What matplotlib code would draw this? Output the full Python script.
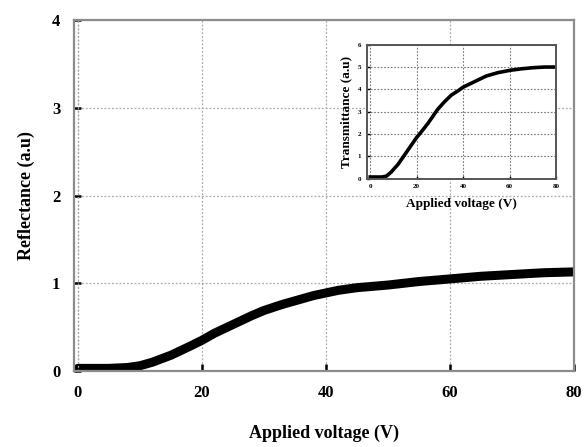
import matplotlib
matplotlib.use("Agg")
import matplotlib.pyplot as plt

# main curve: reflectance vs applied voltage
volt = [0, 3, 5, 8, 10, 12, 15, 18, 20, 22, 25, 28, 30, 33, 35, 38, 40,
        42, 45, 50, 55, 60, 65, 70, 75, 80]
refl = [0.03, 0.03, 0.03, 0.04, 0.06, 0.10, 0.18, 0.28, 0.35, 0.43, 0.53,
        0.63, 0.69, 0.76, 0.80, 0.86, 0.89, 0.92, 0.95, 0.98, 1.02, 1.05,
        1.08, 1.10, 1.12, 1.13]

# inset curve: transmittance vs applied voltage
volt_in = [0, 3, 5, 7, 9, 12, 14, 16, 18, 20, 22, 25, 27, 29, 32, 35, 38,
           40, 43, 45, 50, 55, 60, 65, 70, 75, 80]
trans = [0.08, 0.08, 0.08, 0.12, 0.3, 0.65, 0.95, 1.25, 1.55, 1.85, 2.1,
         2.5, 2.8, 3.1, 3.45, 3.75, 3.95, 4.1, 4.25, 4.35, 4.6, 4.75, 4.85,
         4.92, 4.97, 5.0, 5.0]

xticks = [0, 20, 40, 60, 80]
yticks = [0, 1, 2, 3, 4]
yticks_in = [0, 1, 2, 3, 4, 5, 6]

plt.rcParams["font.family"] = ["Liberation Serif", "DejaVu Serif"]
plt.rcParams["font.weight"] = "bold"

fig = plt.figure(figsize=(5.84, 4.47), dpi=100)
ax = fig.add_axes([0.127, 0.170, 0.856, 0.785])

ax.plot(volt, refl, color="black", lw=6.5, solid_capstyle="round")
ax.set_xlim(-0.6, 80)
ax.set_ylim(0, 4)
ax.set_xticks(xticks)
ax.set_yticks(yticks)
ax.grid(True, color="#aaaaaa", linestyle=(0, (1.5, 1.5)), lw=0.9)
ax.axvline(0, color="#aaaaaa", linestyle=(0, (1.5, 1.5)), lw=0.9)
for s in ax.spines.values():
    s.set_color("#8c8c8c")
    s.set_linewidth(1.6)
ax.tick_params(direction="in", length=5, width=1.8, color="black",
               labelsize=12, pad=10)
for t in ax.get_xticklabels() + ax.get_yticklabels():
    t.set_fontweight("bold")
ax.set_xlabel("Applied voltage (V)", fontsize=13, fontweight="bold", labelpad=17)
ax.set_ylabel("Reflectance (a.u)", fontsize=13, fontweight="bold", labelpad=12)

# inset
axi = fig.add_axes([0.628, 0.600, 0.324, 0.300])
axi.plot(volt_in, trans, color="black", lw=2.6)
axi.set_xlim(-1.5, 80)
axi.set_ylim(0, 6)
axi.set_xticks(xticks)
axi.set_yticks(yticks_in)
axi.grid(True, color="#777777", linestyle=(0, (1.5, 1.5)), lw=0.8)
for s in axi.spines.values():
    s.set_color("#555555")
    s.set_linewidth(1.4)
axi.tick_params(direction="in", length=2, width=1, labelsize=5, pad=4)
axi.set_xlabel("Applied voltage (V)", fontsize=9.5, fontweight="bold", labelpad=6)
axi.set_ylabel("Transmittance (a.u)", fontsize=9.5, fontweight="bold", labelpad=4)

fig.savefig("out.png", dpi=100)
